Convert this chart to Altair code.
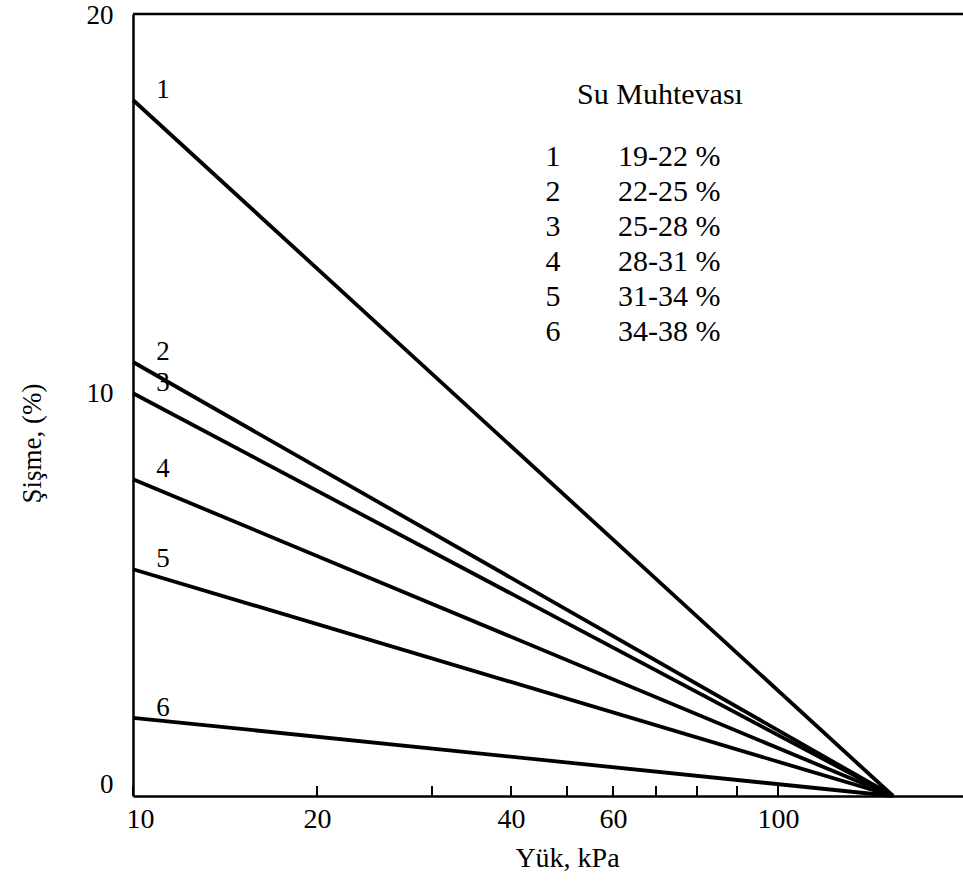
import altair as alt
import pandas as pd

# Swelling vs. load for six water-content ranges
series = ["1", "2", "3", "4", "5", "6"]
water_content = ["19-22 %", "22-25 %", "25-28 %", "28-31 %", "31-34 %", "34-38 %"]
swell_at_start = [17.8, 11.1, 10.3, 8.1, 5.8, 2.0]   # Şişme (%) at 10 kPa
load_start = 10      # kPa
load_zero = 128      # kPa, load at which swelling vanishes

x_tick_values = [10, 20, 30, 40, 50, 60, 70, 80, 90, 100]
x_label_values = [10, 20, 40, 60, 100]
y_label_values = [0, 10, 20]

FONT = "Liberation Serif"
W, H = 830, 782

rows = []
for s, y0 in zip(series, swell_at_start):
    rows.append({"series": s, "load": load_start, "swell": y0})
    rows.append({"series": s, "load": load_zero, "swell": 0.0})
lines_df = pd.DataFrame(rows)
start_df = pd.DataFrame({"series": series, "swell": swell_at_start})
ticks_df = pd.DataFrame({"load": x_tick_values})

# hand-graduated load axis: piecewise scale through the printed graduations
x_scale = alt.Scale(
    domain=[10, 20, 30, 40, 50, 60, 70, 80, 90, 100, 145],
    range=[0, 184, 299, 378, 434, 480, 523, 564, 604, 645, 830],
    nice=False, zero=False,
)
y_scale = alt.Scale(domain=[0, 20], nice=False, zero=True)

x_axis = alt.Axis(
    values=x_label_values, ticks=False, grid=False,
    domainColor="black", domainWidth=2.5,
    labelFont=FONT, labelFontSize=28, labelColor="black", labelPadding=9,
    labelFlush=False, labelOverlap=False,
    labelOffset={"condition": {"test": "datum.value == 10", "value": 7}, "value": 0},
    title="Yük, kPa", titleFont=FONT, titleFontSize=28, titleFontWeight="normal",
    titleColor="black", titleX=434, titleY=62, titleAlign="center", titleBaseline="middle",
)
y_axis = alt.Axis(
    values=y_label_values, ticks=False, grid=False,
    domainColor="black", domainWidth=2.5,
    labelFont=FONT, labelFontSize=27, labelColor="black", labelPadding=20,
    labelOffset={"condition": {"test": "datum.value == 20", "value": 1}, "value": -12},
    title="Şişme, (%)", titleFont=FONT, titleFontSize=27, titleFontWeight="normal",
    titleColor="black", titleX=-101, titleY=429, titleAngle=270,
    titleAlign="center", titleBaseline="middle",
)

curves = alt.Chart(lines_df).mark_line(color="black", strokeWidth=3.8).encode(
    x=alt.X("load:Q", scale=x_scale, axis=x_axis),
    y=alt.Y("swell:Q", scale=y_scale, axis=y_axis),
    detail="series:N",
)

# inward tick marks on the load axis
x_ticks = alt.Chart(ticks_df).mark_rule(color="black", strokeWidth=2).encode(
    x=alt.X("load:Q"),
    y=alt.value(H),
    y2=alt.value(H - 10),
)

top_border = alt.Chart(pd.DataFrame({"k": [0]})).mark_rule(color="black", strokeWidth=2.5).encode(
    x=alt.value(0), x2=alt.value(W), y=alt.value(0),
)

curve_labels = alt.Chart(start_df).mark_text(
    font=FONT, fontSize=27, color="black", align="center", baseline="middle", dy=-10,
).encode(
    x=alt.value(30),
    y=alt.Y("swell:Q"),
    text="series:N",
)

legend_title = alt.Chart(pd.DataFrame({"k": [0]})).mark_text(
    text="Su Muhtevası", font=FONT, fontSize=30, color="black",
    align="center", baseline="middle",
).encode(x=alt.value(527), y=alt.value(81))

legend_ids = alt.Chart(pd.DataFrame({"k": [0]})).mark_text(
    text="\n".join(series), lineBreak="\n", lineHeight=35,
    font=FONT, fontSize=30, color="black", align="center", baseline="middle",
).encode(x=alt.value(420), y=alt.value(143))

legend_ranges = alt.Chart(pd.DataFrame({"k": [0]})).mark_text(
    text="\n".join(water_content), lineBreak="\n", lineHeight=35,
    font=FONT, fontSize=30, color="black", align="left", baseline="middle",
).encode(x=alt.value(485), y=alt.value(143))

chart = alt.layer(
    curves, x_ticks, top_border, curve_labels, legend_title, legend_ids, legend_ranges,
).properties(
    width=W, height=H,
    autosize=alt.AutoSizeParams(type="none"),
    padding={"left": 133, "top": 14, "right": 0, "bottom": 91},
    background="white",
).configure_view(stroke=None)

chart.save("out.html", embed_options={"renderer": "svg", "actions": False})
